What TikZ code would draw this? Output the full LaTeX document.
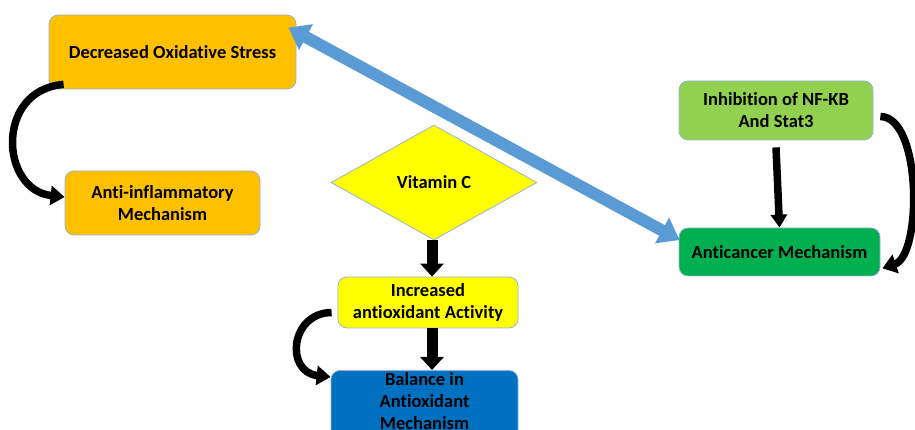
\documentclass[tikz,border=0pt]{standalone}
\usepackage{fontspec}
\newfontfamily\carlito[Ligatures=NoCommon]{Carlito}
\usetikzlibrary{shapes.geometric,arrows.meta,calc}
\definecolor{boxorange}{RGB}{255,192,0}
\definecolor{boxyellow}{RGB}{255,255,0}
\definecolor{boxblue}{RGB}{0,112,192}
\definecolor{boxlgreen}{RGB}{146,208,80}
\definecolor{boxgreen}{RGB}{0,176,80}
\definecolor{boxedge}{RGB}{150,180,215}
\definecolor{arrowblue}{RGB}{91,155,213}
\begin{document}
\begin{tikzpicture}[x=1pt,y=1pt,
  lbl/.style={align=center, font=\carlito\fontsize{18.5}{22}\selectfont\bfseries, text=black},
  box/.style={lbl, draw=boxedge, line width=0.8pt, rounded corners=9pt, inner sep=2pt},
  blockarrow/.style={draw=black, line width=11pt, -{Triangle[width=23pt,length=13pt]}},
  thinblock/.style={draw=black, line width=7.5pt, -{Triangle[width=16pt,length=13pt]}},
  curvearrow/.style={draw=black, line width=7.5pt, -{Triangle[width=19pt,length=14pt]}},
  bluearrow/.style={draw=arrowblue, line width=12pt, {Triangle[width=28pt,length=20pt]}-{Triangle[width=28pt,length=20pt]}}]
\useasboundingbox (0,0) rectangle (915,430);
\clip (0,0) rectangle (915,430);

\node[box, fill=boxorange, minimum width=247pt, minimum height=74pt] (dos) at (172.5,378) {Decreased Oxidative Stress};
\node[box, fill=boxorange, minimum width=195pt, minimum height=64pt] (anti) at (162.5,227) {Anti-inflammatory\\Mechanism};
\node[lbl, diamond, draw=boxedge, line width=0.8pt, fill=boxyellow, minimum width=206pt, minimum height=115pt, inner sep=0pt] (vitc) at (434,247.5) {Vitamin C};
\node[box, fill=boxyellow, minimum width=180pt, minimum height=51pt] (inc) at (428,127.5) {Increased\\antioxidant Activity};
\node[box, fill=boxblue, minimum width=187pt, minimum height=90pt, anchor=north] (bal) at (424.5,60) {};
\node[lbl, anchor=north, inner sep=2pt] (baltext) at (bal.north) {Balance in\\Antioxidant\\Mechanism};
\node[box, fill=boxlgreen, minimum width=194pt, minimum height=59pt] (inh) at (776,319.5) {Inhibition of NF-KB\\And Stat3};
\node[box, fill=boxgreen, minimum width=201pt, minimum height=48pt] (anc) at (779.5,178) {Anticancer Mechanism};

\draw[bluearrow] ($(dos.north east)+(-8,-13)$) -- ($(anc.west)+(1,12)$);

\draw[blockarrow] ($(vitc.south)+(-2,0)$) -- ($(vitc.south |- inc.north)+(-2,0)$);
\draw[blockarrow] ($(vitc.south |- inc.south)+(-2,0)$) -- ($(vitc.south |- bal.north)+(-2,0)$);
\draw[thinblock] ($(inh.south)+(0,-7)$) -- (anc.north);

\draw[curvearrow] ($(dos.south west)+(15,5)$) .. controls (-5,340) and (0,240) .. ($(anti.west)+(0,6)$);
\draw[curvearrow] ($(inc.west)+(-6,-10)$) .. controls (290,117) and (285,58) .. ($(bal.north west)+(0,-7)$);
\draw[curvearrow] ($(inh.east)+(7,-6)$) .. controls (922,313) and (922,175) .. ($(anc.south east)+(2,8)$);
\end{tikzpicture}
\end{document}
